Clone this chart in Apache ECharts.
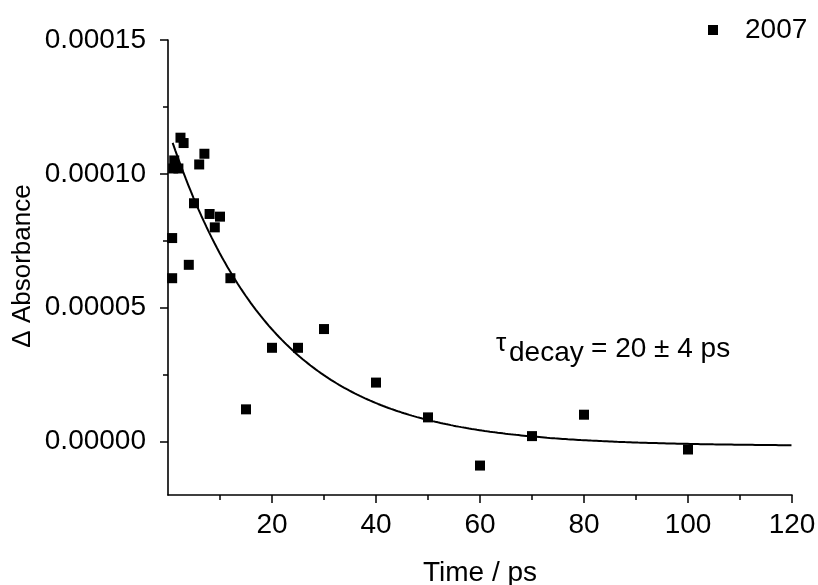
<!DOCTYPE html>
<html>
<head>
<meta charset="utf-8">
<script src="https://cdn.jsdelivr.net/npm/echarts@6/dist/echarts.min.js"></script>
<style>
html,body{margin:0;padding:0;background:#fff;}
#chart{width:818px;height:585px;}
</style>
</head>
<body>
<div id="chart"></div>
<script>
// ---- data ----
var seriesName = '2007';
var times = [0.8, 0.8, 1.0, 1.2, 2.0, 2.4, 3.0, 4, 5, 6, 7, 8, 9, 10, 12, 15, 20, 25, 30, 40, 50, 60, 70, 80, 100];
var absorbance = [7.6e-5, 6.1e-5, 1.02e-4, 1.05e-4, 1.02e-4, 1.135e-4, 1.115e-4, 6.6e-5, 8.9e-5, 1.035e-4, 1.075e-4, 8.5e-5, 8.0e-5, 8.4e-5, 6.1e-5, 1.2e-5, 3.5e-5, 3.5e-5, 4.2e-5, 2.2e-5, 9e-6, -9e-6, 2e-6, 1.0e-5, -3e-6];
// mono-exponential fit shown in the figure: A*exp(-t/tau) + y0
var fitTau = 20;
var fitA = 1.185e-4;
var fitY0 = -1.7e-6;
var fitStart = 0.9;
var fitEnd = 120;
var xTicks = [20, 40, 60, 80, 100, 120];
var yTicks = [0, 0.00005, 0.00010, 0.00015];
var yMinorTicks = [0.000025, 0.000075, 0.000125];

var scatterData = times.map(function (t, i) { return [t, absorbance[i]]; });
var fitData = [];
for (var t = fitStart; t <= fitEnd + 1e-9; t += 0.5) {
  fitData.push([t, fitA * Math.exp(-t / fitTau) + fitY0]);
}
if (fitData[fitData.length - 1][0] < fitEnd) fitData.push([fitEnd, fitA * Math.exp(-fitEnd / fitTau) + fitY0]);

var FONT = 'Liberation Sans, Arial, sans-serif';
var FS = 28;
var chart = echarts.init(document.getElementById('chart'), null, {renderer: 'canvas'});
chart.setOption({
  backgroundColor: '#fff',
  animation: false,
  textStyle: {fontFamily: FONT, color: '#000'},
  grid: {left: 168, right: 26, top: 40, bottom: 90, containLabel: false, outerBoundsMode: 'none'},
  legend: {
    data: [seriesName],
    left: 703, top: 11,
    icon: 'rect', itemWidth: 10, itemHeight: 10,
    textStyle: {fontSize: FS, color: '#000', fontFamily: FONT, padding: [0, 0, 0, 22]}
  },
  xAxis: [{
    type: 'value', min: 0, max: 120, interval: 20,
    name: 'Time / ps', nameLocation: 'middle', nameGap: 64,
    nameTextStyle: {fontSize: FS, color: '#000', fontFamily: FONT},
    axisLine: {show: true, onZero: false, lineStyle: {color: '#000', width: 1.6}},
    axisTick: {show: true, inside: false, length: 8, lineStyle: {color: '#000', width: 1.5}, customValues: xTicks},
    minorTick: {show: true, splitNumber: 2, length: 5, lineStyle: {color: '#000', width: 1.5}},
    axisLabel: {fontSize: FS, color: '#000', margin: 16, fontFamily: FONT, customValues: xTicks},
    splitLine: {show: false}, minorSplitLine: {show: false}
  }],
  yAxis: [{
    type: 'value', min: -0.00002, max: 0.00015,
    axisLine: {show: true, onZero: false, lineStyle: {color: '#000', width: 1.6}},
    axisTick: {show: true, inside: false, length: 8, lineStyle: {color: '#000', width: 1.5}, customValues: yTicks},
    axisLabel: {fontSize: FS, color: '#000', margin: 22, fontFamily: FONT, customValues: yTicks,
      formatter: function (v) { return Math.abs(v) < 1e-12 ? '0.00000' : v.toFixed(5); }},
    splitLine: {show: false}
  }, {
    type: 'value', min: -0.00002, max: 0.00015, position: 'left',
    axisLine: {show: false},
    axisTick: {show: true, inside: false, length: 5, lineStyle: {color: '#000', width: 1.5}, customValues: yMinorTicks},
    axisLabel: {show: false},
    splitLine: {show: false}
  }],
  graphic: [
    {type: 'text', x: 10, y: 266, rotation: Math.PI / 2, style: {text: '\u0394 Absorbance', fontSize: 26, fontFamily: FONT, fill: '#000', textAlign: 'center', textVerticalAlign: 'top'}},
    {type: 'text', x: 496, y: 331, style: {text: '\u03c4', fontSize: 26, fontFamily: FONT, fill: '#000', textVerticalAlign: 'top'}},
    {type: 'text', x: 509, y: 339, style: {text: 'decay', fontSize: FS, fontFamily: FONT, fill: '#000', textVerticalAlign: 'top'}},
    {type: 'text', x: 591, y: 335, style: {text: '= 20 \u00b1 4 ps', fontSize: FS, fontFamily: FONT, fill: '#000', textVerticalAlign: 'top'}}
  ],
  series: [{
    name: seriesName, type: 'scatter', symbol: 'rect', symbolSize: 10,
    itemStyle: {color: '#000', opacity: 1}, data: scatterData, z: 3
  }, {
    name: 'fit', type: 'line', showSymbol: false, symbol: 'none', smooth: false,
    lineStyle: {color: '#000', width: 2}, data: fitData, z: 2
  }]
});
</script>
</body>
</html>
